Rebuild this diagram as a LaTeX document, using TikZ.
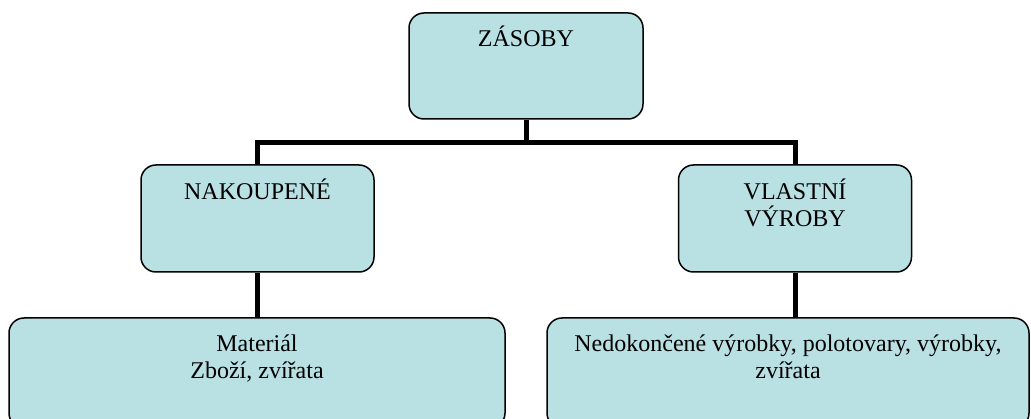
\documentclass[tikz,border=0pt]{standalone}
\usepackage{fontspec}
\setmainfont{Liberation Serif}
\usetikzlibrary{positioning}
\definecolor{boxfill}{RGB}{185,224,227}

\begin{document}
\begin{tikzpicture}[x=1pt, y=-1pt,
	box/.style={draw, line width=1.5pt, fill=boxfill, rounded corners=15pt, inner sep=0pt},
	link/.style={line width=5pt},
	txt/.style={inner sep=0pt, align=center, anchor=base, font=\fontsize{24}{27}\selectfont}]
	\useasboundingbox (0,0) rectangle (1031,419);
	\clip (0,0) rectangle (1031,419);
	\coordinate (bar) at (526,143);
	\node[box, minimum width=234pt, minimum height=106pt] (zasoby) at (526,66) {};
	\node[box, minimum width=233pt, minimum height=107pt] (nakoupene) at (257.5,218.5) {};
	\node[box, minimum width=233pt, minimum height=107pt] (vlastni) at (795,218.5) {};
	\node[box, minimum width=496pt, minimum height=110pt] (material) at (257,373) {};
	\node[box, minimum width=482pt, minimum height=110pt] (vyrobky) at (788,373) {};
	% connectors
	\draw[link] (zasoby.south) -- (bar);
	\draw[link] (nakoupene.north) |- (bar) -| (vlastni.north);
	\draw[link] (nakoupene.south) -- (nakoupene.south |- material.north);
	\draw[link] (vlastni.south) -- (vlastni.south |- vyrobky.north);
	% texts (base = last line)
	\node[txt] (t1) at ([yshift=-34pt]zasoby.north) {ZÁSOBY};
	\node[txt] (t2) at ([yshift=-35pt]nakoupene.north) {NAKOUPENÉ};
	\node[txt] (t3) at ([yshift=-62pt]vlastni.north) {VLASTNÍ\\VÝROBY};
	\node[txt] (t4) at ([yshift=-61pt]material.north) {Materiál\\Zboží, zvířata};
	\node[txt] (t5) at ([yshift=-61pt]vyrobky.north) {Nedokončené výrobky, polotovary, výrobky,\\zvířata};
\end{tikzpicture}
\end{document}
